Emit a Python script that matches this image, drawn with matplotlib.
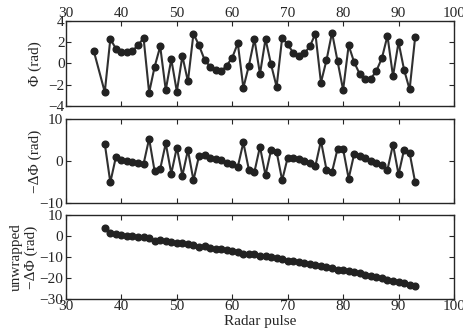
import matplotlib

matplotlib.use("Agg")
import matplotlib.pyplot as plt

INK = "#262626"

# wrapped phase (top panel)
pulse_phi = [35] + list(range(37, 94))
phi = [1.2, -2.7, 2.3, 1.4, 1.1, 1.05, 1.2, 1.7, 2.4, -2.75,
       -0.3, 1.6, -2.5, 0.4, -2.65, 0.7, -1.7, 2.8, 1.7, 0.35,
       -0.3, -0.6, -0.75, -0.2, 0.55, 1.9, -2.3, -0.2, 2.3, -1.0,
       2.3, -0.1, -2.2, 2.4, 1.8, 1.0, 0.7, 0.95, 1.6, 2.8,
       -1.8, 0.3, 2.9, 0.2, -2.5, 1.7, 0.1, -1.0, -1.45, -1.45,
       -0.7, 0.5, 2.6, -1.2, 2.0, -0.6, -2.45, 2.5]

# phase difference (middle + bottom panels)
pulse_dphi = list(range(37, 94))
neg_dphi = [4.1, -5.1, 0.9, 0.3, 0.05, -0.15, -0.5, -0.7, 5.3, -2.5,
            -1.9, 4.2, -3.0, 3.2, -3.5, 2.6, -4.6, 1.2, 1.4, 0.8,
            0.5, 0.3, -0.6, -0.8, -1.4, 4.4, -2.1, -2.6, 3.4, -3.4,
            2.6, 2.2, -4.6, 0.8, 0.8, 0.4, -0.1, -0.5, -1.2, 4.8,
            -2.1, -2.6, 2.9, 2.8, -4.2, 1.7, 1.2, 0.6, 0.1, -0.4,
            -1.0, -2.1, 3.9, -3.2, 2.7, 1.9, -5.1]
neg_dphi_unwrapped = [4.0, 1.3, 0.9, 0.3, 0.05, -0.15, -0.5, -0.7, -1.1, -2.5,
                      -1.9, -2.2, -2.9, -3.2, -3.4, -3.9, -4.5, -5.2, -4.9, -5.6,
                      -6.0, -6.1, -6.8, -7.0, -7.6, -8.4, -8.4, -8.8, -9.3, -9.6,
                      -10.2, -10.5, -10.9, -11.9, -11.8, -12.3, -12.8, -13.2, -13.8, -14.3,
                      -14.7, -15.2, -16.1, -16.2, -16.8, -17.3, -17.8, -18.4, -18.9, -19.5,
                      -20.1, -20.9, -21.4, -22.1, -22.5, -23.2, -23.8]

plt.rcParams["font.family"] = ["Liberation Serif", "DejaVu Serif"]
plt.rcParams["font.size"] = 11
plt.rcParams["text.color"] = INK
plt.rcParams["axes.labelcolor"] = INK
plt.rcParams["xtick.color"] = INK
plt.rcParams["ytick.color"] = INK

fig = plt.figure(figsize=(4.63, 3.30), dpi=100)
ax1 = fig.add_axes([0.1425, 0.679, 0.838, 0.2576])
ax2 = fig.add_axes([0.1425, 0.385, 0.838, 0.2545])
ax3 = fig.add_axes([0.1425, 0.094, 0.838, 0.2545])

style = dict(color="#303030", lw=1.5, marker="o", ms=4.8, mfc="#222222", mec="#222222")
ax1.plot(pulse_phi, phi, **style)
ax2.plot(pulse_dphi, neg_dphi, **style)
ax3.plot(pulse_dphi, neg_dphi_unwrapped, **style)

for ax in (ax1, ax2, ax3):
    ax.set_xlim(30, 100)
    ax.set_xticks(range(30, 101, 10))
    ax.tick_params(direction="in", top=True, right=True, length=3.5, width=0.8, pad=2)
    for sp in ax.spines.values():
        sp.set_linewidth(1.0)
        sp.set_color(INK)

ax1.set_ylim(-4, 4)
ax1.set_yticks([-4, -2, 0, 2, 4])
ax1.tick_params(labeltop=True, labelbottom=False, pad=1)
ax1.set_ylabel("Φ (rad)")
ax1.yaxis.set_label_coords(-0.062, 0.5)

ax2.set_ylim(-10, 10)
ax2.set_yticks([-10, 0, 10])
ax2.tick_params(labelbottom=False)
ax2.set_ylabel("−ΔΦ (rad)")
ax2.yaxis.set_label_coords(-0.062, 0.5)

ax3.set_ylim(-30, 10)
ax3.set_yticks([-30, -20, -10, 0, 10])
ax3.set_ylabel("unwrapped\n−ΔΦ (rad)", linespacing=1.15)
ax3.yaxis.set_label_coords(-0.072, 0.5)
ax3.tick_params(axis="x", pad=1)
ax3.set_xlabel("Radar pulse", labelpad=1)

fig.savefig("out.png", dpi=100)
